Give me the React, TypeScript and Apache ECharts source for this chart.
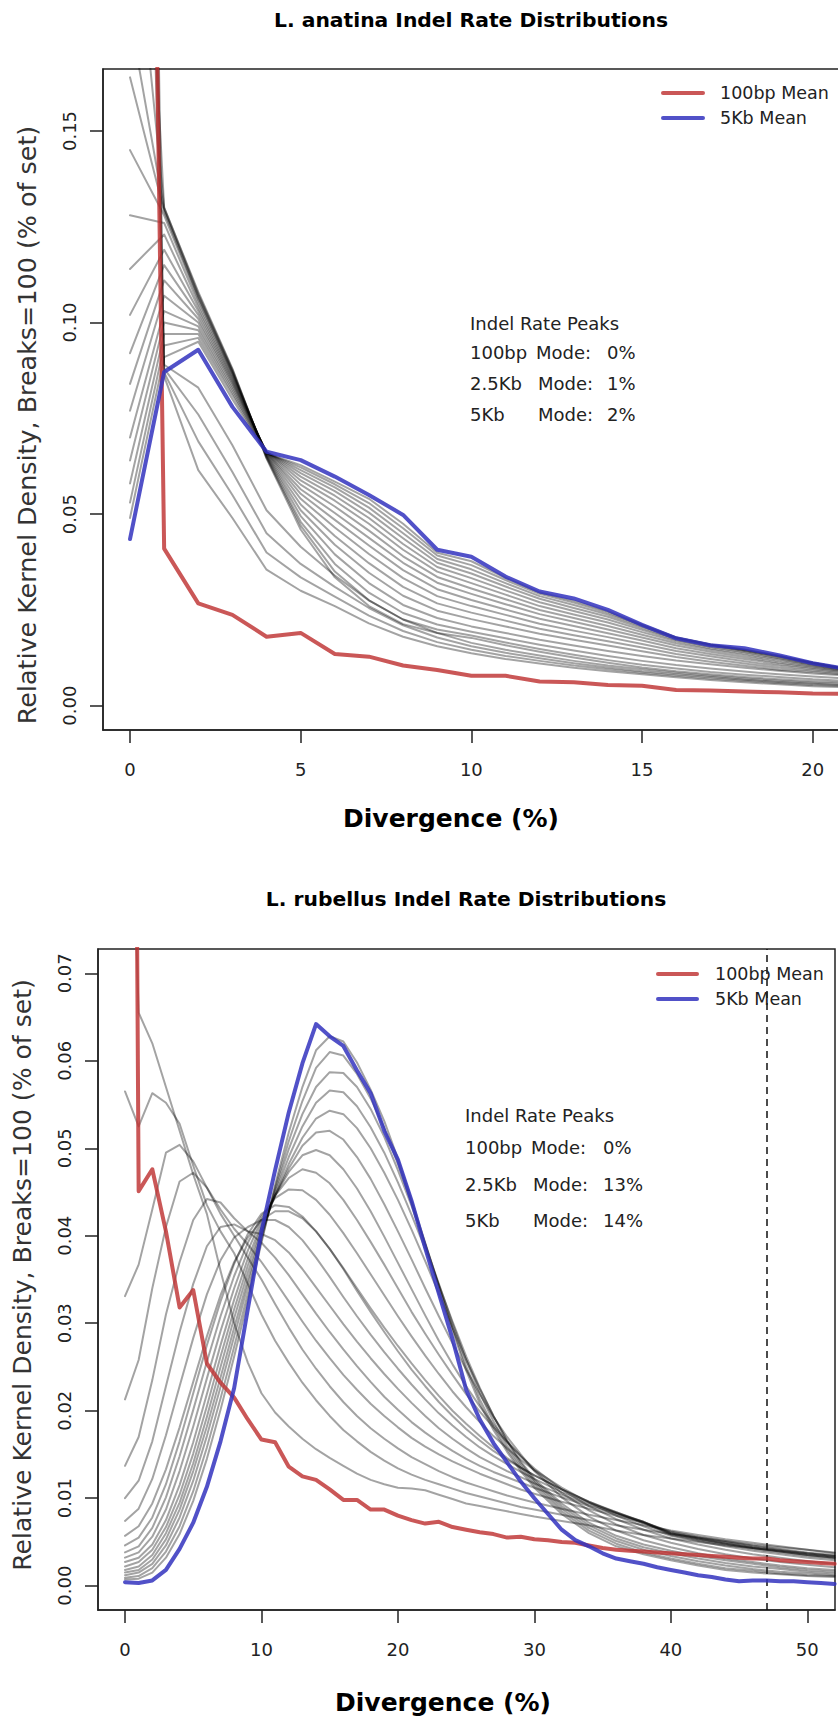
import React, { useEffect, useRef } from "react";
import * as echarts from "echarts";

// ---------------- L. anatina (top) ----------------
const anatinaX = [0, 1, 2, 3, 4, 5, 6, 7, 8, 9, 10, 11, 12, 13, 14, 15, 16, 17, 18, 19, 20, 21];
const anatina100bp = [0.67, 0.041, 0.0267, 0.0237, 0.018, 0.019, 0.0135, 0.0128, 0.0105, 0.0093, 0.0078, 0.0078, 0.0063, 0.0061, 0.0054, 0.0052, 0.0041, 0.004, 0.0037, 0.0035, 0.0032, 0.0031];
const anatina5kb = [0.0435, 0.0871, 0.0929, 0.078, 0.0663, 0.0641, 0.0598, 0.055, 0.0498, 0.0407, 0.0389, 0.0337, 0.0298, 0.028, 0.025, 0.0211, 0.0176, 0.0158, 0.015, 0.0132, 0.0111, 0.0096];
const anatinaGray = [
  [0.62, 0.086, 0.0615, 0.049, 0.0355, 0.030, 0.026, 0.0215, 0.018, 0.0155, 0.0137, 0.0122, 0.011, 0.0099, 0.009, 0.0082, 0.0074, 0.0067, 0.0061, 0.0056, 0.0051, 0.0048],
  [0.54, 0.087, 0.069, 0.055, 0.04, 0.0335, 0.0285, 0.0235, 0.0195, 0.0166, 0.0146, 0.013, 0.0117, 0.0105, 0.0095, 0.0086, 0.0078, 0.0071, 0.0065, 0.0059, 0.0054, 0.0051],
  [0.47, 0.088, 0.076, 0.061, 0.045, 0.037, 0.031, 0.0255, 0.021, 0.0178, 0.0155, 0.0138, 0.0124, 0.0111, 0.01, 0.009, 0.0082, 0.0075, 0.0068, 0.0062, 0.0057, 0.0053],
  [0.40, 0.089, 0.083, 0.068, 0.051, 0.0415, 0.034, 0.0275, 0.0225, 0.019, 0.0164, 0.0146, 0.0131, 0.0117, 0.0105, 0.0095, 0.0086, 0.0078, 0.0071, 0.0065, 0.006, 0.0056],
  [0.30, 0.130, 0.108, 0.088, 0.0645, 0.046, 0.0335, 0.026, 0.0213, 0.019, 0.0177, 0.0158, 0.0141, 0.0126, 0.0112, 0.0100, 0.0090, 0.0082, 0.0075, 0.0069, 0.0064, 0.0060],
  [0.22, 0.130, 0.1075, 0.0877, 0.0647, 0.047, 0.035, 0.0275, 0.0225, 0.0199, 0.0183, 0.0165, 0.0148, 0.0133, 0.0119, 0.0107, 0.0097, 0.0088, 0.0081, 0.0075, 0.0069, 0.0065],
  [0.18, 0.1295, 0.107, 0.0874, 0.0649, 0.048, 0.037, 0.0295, 0.0242, 0.0212, 0.0193, 0.0176, 0.0159, 0.0144, 0.013, 0.0117, 0.0106, 0.0097, 0.0089, 0.0082, 0.0076, 0.0071],
  [0.164, 0.129, 0.1065, 0.0871, 0.0651, 0.0495, 0.0395, 0.032, 0.0263, 0.0229, 0.0207, 0.019, 0.0172, 0.0157, 0.0143, 0.013, 0.0118, 0.0108, 0.0099, 0.0091, 0.0084, 0.0079],
  [0.145, 0.128, 0.106, 0.0868, 0.0653, 0.051, 0.042, 0.0347, 0.0287, 0.0248, 0.0226, 0.0207, 0.0188, 0.0172, 0.0157, 0.0142, 0.0127, 0.0115, 0.0104, 0.0094, 0.0088, 0.0081],
  [0.128, 0.126, 0.105, 0.0865, 0.0655, 0.0525, 0.0443, 0.0372, 0.031, 0.0267, 0.0243, 0.0222, 0.0201, 0.0184, 0.0168, 0.0152, 0.0135, 0.0122, 0.011, 0.0099, 0.0092, 0.0084],
  [0.114, 0.123, 0.104, 0.086, 0.0657, 0.054, 0.0465, 0.0396, 0.0333, 0.0286, 0.026, 0.0237, 0.0214, 0.0196, 0.0179, 0.0161, 0.0143, 0.0129, 0.0116, 0.0104, 0.0096, 0.0087],
  [0.102, 0.119, 0.103, 0.0855, 0.0659, 0.0553, 0.0485, 0.0418, 0.0354, 0.0304, 0.0276, 0.0251, 0.0227, 0.0208, 0.0189, 0.017, 0.015, 0.0135, 0.0122, 0.0109, 0.0099, 0.0089],
  [0.092, 0.115, 0.102, 0.085, 0.066, 0.0565, 0.0503, 0.0438, 0.0373, 0.0321, 0.0292, 0.0265, 0.0239, 0.0219, 0.0199, 0.0178, 0.0157, 0.0141, 0.0127, 0.0113, 0.0102, 0.0091],
  [0.084, 0.111, 0.101, 0.0845, 0.0661, 0.0577, 0.052, 0.0457, 0.039, 0.0336, 0.0306, 0.0278, 0.025, 0.0229, 0.0208, 0.0185, 0.0163, 0.0146, 0.0132, 0.0117, 0.0105, 0.0093],
  [0.077, 0.107, 0.1, 0.084, 0.0662, 0.0588, 0.0535, 0.0475, 0.0407, 0.035, 0.032, 0.029, 0.026, 0.0238, 0.0217, 0.0192, 0.0168, 0.015, 0.0136, 0.0121, 0.0107, 0.0094],
  [0.07, 0.103, 0.099, 0.0833, 0.0662, 0.0598, 0.0548, 0.049, 0.0422, 0.0362, 0.0333, 0.0301, 0.027, 0.0247, 0.0225, 0.0198, 0.0172, 0.0154, 0.014, 0.0124, 0.0109, 0.0095],
  [0.064, 0.1, 0.098, 0.0826, 0.0662, 0.0607, 0.056, 0.0504, 0.0437, 0.0373, 0.0345, 0.0311, 0.0279, 0.0255, 0.0232, 0.0203, 0.0175, 0.0157, 0.0143, 0.0127, 0.0111, 0.0096],
  [0.058, 0.097, 0.097, 0.0818, 0.0661, 0.0615, 0.057, 0.0517, 0.045, 0.0383, 0.0356, 0.032, 0.0286, 0.0263, 0.0238, 0.0207, 0.0177, 0.0159, 0.0145, 0.0129, 0.0112, 0.0096],
  [0.053, 0.094, 0.096, 0.081, 0.066, 0.0622, 0.0578, 0.0529, 0.0463, 0.0392, 0.0367, 0.0328, 0.0292, 0.0269, 0.0243, 0.021, 0.0178, 0.016, 0.0146, 0.013, 0.0112, 0.0096],
  [0.049, 0.091, 0.095, 0.080, 0.0659, 0.0628, 0.0585, 0.054, 0.0475, 0.0399, 0.0377, 0.0334, 0.0296, 0.0274, 0.0247, 0.0212, 0.0178, 0.016, 0.0147, 0.0131, 0.0112, 0.0096],
];
const anatinaXTicks = [0, 5, 10, 15, 20];
const anatinaYTicks = [0, 0.05, 0.1, 0.15];
const anatinaPeaks = [
  ["100bp", "Mode:", "0%"],
  ["2.5Kb", "Mode:", "1%"],
  ["5Kb", "Mode:", "2%"],
];

// ---------------- L. rubellus (bottom) ----------------
const rubellusX = [0, 1, 2, 3, 4, 5, 6, 7, 8, 9, 10, 11, 12, 13, 14, 15, 16, 17, 18, 19, 20, 21, 22, 23, 24, 25, 26, 27, 28, 29, 30, 31, 32, 33, 34, 35, 36, 37, 38, 39, 40, 41, 42, 43, 44, 45, 46, 47, 48, 49, 50, 51, 52];
const rubellus100bp = [0.30, 0.0451, 0.0476, 0.0405, 0.0318, 0.0338, 0.0254, 0.0232, 0.0215, 0.019, 0.0167, 0.0164, 0.0136, 0.0125, 0.0121, 0.011, 0.0098, 0.0098, 0.0087, 0.0087, 0.008, 0.0075, 0.0071, 0.0073, 0.0067, 0.0064, 0.0061, 0.0059, 0.0055, 0.0056, 0.0053, 0.0052, 0.005, 0.0049, 0.0046, 0.0043, 0.0041, 0.004, 0.0039, 0.0038, 0.0037, 0.0036, 0.0035, 0.0034, 0.0033, 0.0032, 0.0031, 0.0031, 0.0029, 0.0028, 0.0027, 0.0026, 0.0025];
const rubellus5kb = [0.0004, 0.0003, 0.0006, 0.0018, 0.0042, 0.0072, 0.0113, 0.0165, 0.0226, 0.0316, 0.0405, 0.0475, 0.0541, 0.0597, 0.0642, 0.0628, 0.0617, 0.0589, 0.0563, 0.052, 0.0487, 0.044, 0.0386, 0.0334, 0.0282, 0.0224, 0.019, 0.0163, 0.0141, 0.0119, 0.01, 0.0082, 0.0064, 0.0052, 0.0045, 0.0037, 0.0031, 0.0028, 0.0025, 0.0021, 0.0018, 0.0015, 0.0012, 0.001, 0.0007, 0.0005, 0.0006, 0.0006, 0.0005, 0.0005, 0.0004, 0.0003, 0.0002];
const rubellusGrayX = [0, 1, 2, 3, 4, 5, 6, 7, 8, 9, 10, 11, 12, 13, 14, 15, 16, 17, 18, 19, 20, 21, 22, 23, 24, 25, 26, 27, 28, 29, 30, 32, 34, 36, 38, 40, 42, 44, 46, 48, 50, 52];
const rubellusGray = [
  [0.115, 0.0655, 0.062, 0.057, 0.052, 0.047, 0.0425, 0.036, 0.030, 0.0255, 0.022, 0.0198, 0.0182, 0.0168, 0.0156, 0.0146, 0.0137, 0.0128, 0.0121, 0.0116, 0.0112, 0.0111, 0.0109, 0.0104, 0.0099, 0.0094, 0.0091, 0.0088, 0.0085, 0.0082, 0.0079, 0.0074, 0.0069, 0.0063, 0.0058, 0.0054, 0.005, 0.0046, 0.0043, 0.004, 0.0037, 0.0034],
  [0.0565, 0.0525, 0.0563, 0.0552, 0.0528, 0.048, 0.0435, 0.0405, 0.038, 0.0345, 0.031, 0.028, 0.0255, 0.0232, 0.0212, 0.0194, 0.0178, 0.0165, 0.0153, 0.0143, 0.0134, 0.0127, 0.0121, 0.0116, 0.0111, 0.0106, 0.0102, 0.0098, 0.0094, 0.009, 0.0087, 0.0081, 0.0075, 0.0069, 0.0064, 0.0059, 0.0055, 0.0051, 0.0047, 0.0044, 0.0041, 0.0038],
  [0.0331, 0.0367, 0.043, 0.0495, 0.0504, 0.0485, 0.0455, 0.0425, 0.040, 0.0375, 0.035, 0.0322, 0.0295, 0.027, 0.0248, 0.0228, 0.021, 0.0194, 0.018, 0.0168, 0.0157, 0.0147, 0.0139, 0.0131, 0.0124, 0.0118, 0.0113, 0.0108, 0.0103, 0.0099, 0.0095, 0.0088, 0.0081, 0.0075, 0.0069, 0.0063, 0.0058, 0.0053, 0.0049, 0.0045, 0.0041, 0.0037],
  [0.0213, 0.0258, 0.034, 0.041, 0.0462, 0.0472, 0.0455, 0.043, 0.0408, 0.039, 0.037, 0.0348, 0.0325, 0.0302, 0.028, 0.026, 0.0241, 0.0224, 0.0208, 0.0194, 0.0181, 0.0169, 0.0159, 0.015, 0.0142, 0.0135, 0.0128, 0.0122, 0.0116, 0.011, 0.0105, 0.0096, 0.0088, 0.008, 0.0072, 0.0062, 0.0056, 0.0051, 0.0046, 0.0042, 0.0038, 0.0035],
  [0.0137, 0.017, 0.0235, 0.031, 0.037, 0.0418, 0.0442, 0.0438, 0.042, 0.0405, 0.0392, 0.0375, 0.0355, 0.0333, 0.0311, 0.029, 0.027, 0.0251, 0.0233, 0.0216, 0.0201, 0.0187, 0.0175, 0.0164, 0.0154, 0.0145, 0.0137, 0.013, 0.0124, 0.0118, 0.0112, 0.0101, 0.0091, 0.0082, 0.0073, 0.0061, 0.0055, 0.005, 0.0045, 0.0041, 0.0037, 0.0034],
  [0.01, 0.012, 0.0165, 0.0228, 0.029, 0.0345, 0.0388, 0.041, 0.0413, 0.0405, 0.0402, 0.0395, 0.0381, 0.0362, 0.0341, 0.032, 0.0299, 0.0279, 0.026, 0.0242, 0.0225, 0.0209, 0.0194, 0.018, 0.0168, 0.0157, 0.0147, 0.0139, 0.0131, 0.0124, 0.0117, 0.0104, 0.0093, 0.0083, 0.0073, 0.006, 0.0054, 0.0049, 0.0044, 0.004, 0.0036, 0.0033],
  [0.0074, 0.0088, 0.0122, 0.0172, 0.0228, 0.0283, 0.0333, 0.0372, 0.0398, 0.041, 0.0418, 0.0418, 0.041, 0.0395, 0.0375, 0.0353, 0.033, 0.0308, 0.0287, 0.0267, 0.0248, 0.023, 0.0213, 0.0197, 0.0183, 0.017, 0.0158, 0.0148, 0.0139, 0.013, 0.0122, 0.0107, 0.0095, 0.0084, 0.0073, 0.0059, 0.0053, 0.0048, 0.0043, 0.0039, 0.0035, 0.0032],
  [0.0057, 0.0068, 0.0094, 0.0133, 0.0181, 0.0233, 0.0285, 0.0332, 0.037, 0.0398, 0.0418, 0.0428, 0.0428, 0.042, 0.0405, 0.0385, 0.0362, 0.0337, 0.0313, 0.029, 0.0268, 0.0247, 0.0228, 0.021, 0.0194, 0.0179, 0.0166, 0.0154, 0.0144, 0.0135, 0.0126, 0.011, 0.0096, 0.0084, 0.0072, 0.0058, 0.0052, 0.0047, 0.0042, 0.0038, 0.0034, 0.0031],
  [0.0046, 0.0055, 0.0078, 0.0116, 0.0165, 0.022, 0.0275, 0.0325, 0.0368, 0.0402, 0.0425, 0.0435, 0.0433, 0.0422, 0.0405, 0.0385, 0.0363, 0.034, 0.0317, 0.0295, 0.0274, 0.0254, 0.0235, 0.0217, 0.02, 0.0185, 0.0171, 0.0158, 0.0146, 0.0135, 0.0126, 0.011, 0.0096, 0.0083, 0.0071, 0.006, 0.0054, 0.0048, 0.0043, 0.0039, 0.0035, 0.0032],
  [0.0038, 0.0045, 0.0066, 0.0101, 0.0148, 0.0201, 0.0256, 0.0308, 0.0354, 0.0392, 0.0422, 0.0443, 0.0453, 0.0452, 0.0441, 0.0424, 0.0403, 0.038, 0.0356, 0.0332, 0.0308, 0.0285, 0.0263, 0.0242, 0.0222, 0.0204, 0.0187, 0.0171, 0.0157, 0.0144, 0.0132, 0.0112, 0.0095, 0.008, 0.0068, 0.0057, 0.0051, 0.0045, 0.004, 0.0036, 0.0032, 0.0029],
  [0.0032, 0.0038, 0.0056, 0.0087, 0.0131, 0.0182, 0.0237, 0.0291, 0.034, 0.0383, 0.0418, 0.0446, 0.0466, 0.0476, 0.0472, 0.046, 0.0441, 0.0418, 0.0393, 0.0367, 0.034, 0.0313, 0.0288, 0.0264, 0.0241, 0.0219, 0.0199, 0.0181, 0.0164, 0.0148, 0.0134, 0.011, 0.0091, 0.0076, 0.0064, 0.0054, 0.0047, 0.0041, 0.0036, 0.0032, 0.0028, 0.0025],
  [0.0027, 0.0032, 0.0047, 0.0075, 0.0115, 0.0164, 0.0219, 0.0275, 0.0327, 0.0374, 0.0413, 0.0446, 0.0473, 0.0492, 0.0498, 0.0492, 0.0476, 0.0454, 0.0428, 0.0399, 0.0369, 0.0339, 0.0309, 0.028, 0.0253, 0.0228, 0.0205, 0.0184, 0.0165, 0.0148, 0.0132, 0.0106, 0.0086, 0.007, 0.0058, 0.0049, 0.0042, 0.0036, 0.0031, 0.0027, 0.0024, 0.0021],
  [0.0022, 0.0027, 0.0041, 0.0067, 0.0104, 0.0151, 0.0205, 0.0262, 0.0316, 0.0366, 0.0409, 0.0446, 0.0477, 0.0503, 0.0518, 0.052, 0.051, 0.049, 0.0465, 0.0436, 0.0405, 0.0373, 0.034, 0.0308, 0.0277, 0.0247, 0.0219, 0.0193, 0.017, 0.015, 0.0131, 0.0101, 0.0079, 0.0063, 0.0052, 0.0044, 0.0037, 0.0031, 0.0027, 0.0023, 0.002, 0.0018],
  [0.0018, 0.0022, 0.0035, 0.006, 0.0095, 0.014, 0.0193, 0.025, 0.0306, 0.0358, 0.0405, 0.0446, 0.0482, 0.0512, 0.0534, 0.0543, 0.0539, 0.0523, 0.05, 0.0472, 0.0441, 0.0407, 0.0371, 0.0334, 0.0295, 0.0258, 0.0225, 0.0194, 0.0166, 0.0142, 0.0122, 0.0094, 0.0072, 0.0057, 0.0047, 0.004, 0.0034, 0.0029, 0.0025, 0.0021, 0.0018, 0.0016],
  [0.0015, 0.0018, 0.003, 0.0053, 0.0087, 0.0131, 0.0182, 0.0238, 0.0295, 0.035, 0.0402, 0.0449, 0.049, 0.0525, 0.0552, 0.0566, 0.0564, 0.0548, 0.0524, 0.0495, 0.0461, 0.0424, 0.0385, 0.0344, 0.0302, 0.0262, 0.0226, 0.0194, 0.0165, 0.014, 0.012, 0.0091, 0.0069, 0.0054, 0.0044, 0.0037, 0.0031, 0.0026, 0.0022, 0.0019, 0.0016, 0.0014],
  [0.0012, 0.0015, 0.0025, 0.0046, 0.0078, 0.012, 0.0171, 0.0227, 0.0285, 0.0343, 0.0399, 0.0452, 0.0499, 0.0539, 0.057, 0.0587, 0.0586, 0.057, 0.0545, 0.0513, 0.0475, 0.0434, 0.039, 0.0345, 0.03, 0.0258, 0.022, 0.0188, 0.016, 0.0137, 0.0118, 0.0088, 0.0066, 0.0051, 0.0041, 0.0034, 0.0028, 0.0023, 0.0019, 0.0016, 0.0014, 0.0012],
  [0.0009, 0.0011, 0.002, 0.0039, 0.0068, 0.0108, 0.0158, 0.0214, 0.0273, 0.0334, 0.0395, 0.0455, 0.0508, 0.0554, 0.0592, 0.061, 0.0606, 0.0585, 0.0557, 0.0523, 0.0482, 0.0438, 0.0391, 0.0343, 0.0295, 0.0251, 0.0213, 0.0182, 0.0156, 0.0134, 0.0115, 0.0085, 0.0063, 0.0048, 0.0038, 0.0031, 0.0025, 0.002, 0.0017, 0.0014, 0.0012, 0.0011],
  [0.0007, 0.0008, 0.0015, 0.0032, 0.0059, 0.0097, 0.0145, 0.0201, 0.0262, 0.0326, 0.0392, 0.0458, 0.0518, 0.057, 0.0612, 0.0628, 0.0622, 0.0598, 0.0567, 0.0531, 0.0488, 0.0441, 0.0392, 0.0342, 0.0292, 0.0246, 0.0208, 0.0178, 0.0153, 0.0131, 0.0112, 0.0082, 0.006, 0.0045, 0.0036, 0.0029, 0.0023, 0.0018, 0.0015, 0.0013, 0.0011, 0.001],
];
const rubellusXTicks = [0, 10, 20, 30, 40, 50];
const rubellusYTicks = [0, 0.01, 0.02, 0.03, 0.04, 0.05, 0.06, 0.07];
const rubellusCutoff = 47;
const rubellusPeaks = [
  ["100bp", "Mode:", "0%"],
  ["2.5Kb", "Mode:", "13%"],
  ["5Kb", "Mode:", "14%"],
];

const legendNames = ["100bp Mean", "5Kb Mean"];
const yTitle = "Relative Kernel Density, Breaks=100 (% of set)";
const xTitle = "Divergence (%)";

// ---------------- styling ----------------
const FONT = '"DejaVu Sans", Verdana, sans-serif';
const RED = "rgba(190,50,50,0.82)";
const BLUE = "rgba(50,50,190,0.85)";
const GRAY = "rgba(0,0,0,0.36)";
const AXIS = "#222";

function xAxisCfg(gridIndex: number, min: number, max: number, ticks: number[]) {
  return {
    type: "value",
    gridIndex,
    min,
    max,
    axisLine: { show: true, onZero: false, lineStyle: { color: AXIS, width: 1.5 } },
    axisTick: { show: true, inside: false, length: 13, customValues: ticks, lineStyle: { color: AXIS, width: 1.5 } },
    axisLabel: {
      show: true,
      customValues: ticks,
      margin: 30,
      fontSize: 18,
      fontFamily: FONT,
      color: "#222",
      formatter: (v: number) => String(Math.round(v)),
    },
    splitLine: { show: false },
  };
}

function yAxisCfg(gridIndex: number, min: number, max: number, ticks: number[]) {
  return {
    type: "value",
    gridIndex,
    min,
    max,
    axisLine: { show: true, onZero: false, lineStyle: { color: AXIS, width: 1.5 } },
    axisTick: { show: true, inside: false, length: 13, customValues: ticks, lineStyle: { color: AXIS, width: 1.5 } },
    axisLabel: {
      show: true,
      customValues: ticks,
      rotate: 90,
      margin: 25,
      fontSize: 18,
      fontFamily: FONT,
      color: "#222",
      formatter: (v: number) => v.toFixed(2),
    },
    splitLine: { show: false },
  };
}

function lineSeries(xs: number[], ys: number[], axis: number, color: string, width: number, z: number) {
  const n = Math.min(xs.length, ys.length);
  const data: number[][] = [];
  for (let i = 0; i < n; i++) data.push([xs[i], ys[i]]);
  return {
    type: "line",
    xAxisIndex: axis,
    yAxisIndex: axis,
    data,
    showSymbol: false,
    symbol: "none",
    silent: true,
    clip: true,
    z,
    lineStyle: { color, width, join: "round", cap: "round" },
  };
}

function txt(text: string, x: number, y: number, extra: any = {}, rotation = 0) {
  return {
    type: "text",
    x,
    y,
    rotation,
    silent: true,
    z: 100,
    style: {
      text,
      fontFamily: FONT,
      fontSize: 18,
      fill: "#222",
      align: "left",
      verticalAlign: "middle",
      ...extra,
    },
  };
}

function legendLine(x1: number, x2: number, y: number, color: string) {
  return {
    type: "line",
    silent: true,
    z: 100,
    shape: { x1, y1: y, x2, y2: y },
    style: { stroke: color, lineWidth: 4, lineCap: "round" },
  };
}

function buildOption() {
  const series: any[] = [];
  anatinaGray.forEach((row) => series.push(lineSeries(anatinaX, row, 0, GRAY, 2, 2)));
  series.push(lineSeries(anatinaX, anatina100bp, 0, RED, 4, 5));
  series.push(lineSeries(anatinaX, anatina5kb, 0, BLUE, 4, 6));

  rubellusGray.forEach((row) => series.push(lineSeries(rubellusGrayX, row, 1, GRAY, 2, 2)));
  const red2: any = lineSeries(rubellusX, rubellus100bp, 1, RED, 4, 5);
  red2.markLine = {
    silent: true,
    symbol: ["none", "none"],
    label: { show: false },
    lineStyle: { color: "#111", width: 1.5, type: [7, 5] },
    data: [{ xAxis: rubellusCutoff }],
  };
  series.push(red2);
  series.push(lineSeries(rubellusX, rubellus5kb, 1, BLUE, 4, 6));

  const graphics: any[] = [
    // titles
    txt("L. anatina Indel Rate Distributions", 471, 20, { fontSize: 20.3, fontWeight: "bold", align: "center", fill: "#000" }),
    txt("L. rubellus Indel Rate Distributions", 466, 899, { fontSize: 20.3, fontWeight: "bold", align: "center", fill: "#000" }),
    // x titles
    txt(xTitle, 451, 818, { fontSize: 25, fontWeight: "bold", align: "center", fill: "#000" }),
    txt(xTitle, 443, 1702, { fontSize: 25, fontWeight: "bold", align: "center", fill: "#000" }),
    // y titles
    txt(yTitle, 27, 425, { fontSize: 25.4, align: "center", fill: "#333" }, Math.PI / 2),
    txt(yTitle, 22, 1275, { fontSize: 25.1, align: "center", fill: "#333" }, Math.PI / 2),
    // legends top
    legendLine(663, 703, 93, RED),
    legendLine(663, 703, 118, BLUE),
    txt(legendNames[0], 720, 93, { fontSize: 17.5 }),
    txt(legendNames[1], 720, 118, { fontSize: 17.5 }),
    // legends bottom
    legendLine(658, 697, 974, RED),
    legendLine(658, 697, 999, BLUE),
    txt(legendNames[0], 715, 974, { fontSize: 17.5 }),
    txt(legendNames[1], 715, 999, { fontSize: 17.5 }),
    // peaks headings
    txt("Indel Rate Peaks", 470, 323),
    txt("Indel Rate Peaks", 465, 1115),
  ];
  const topRows = [352, 383, 414];
  const topModeX = [536, 538, 538];
  anatinaPeaks.forEach((r, i) => {
    graphics.push(txt(r[0], 470, topRows[i]));
    graphics.push(txt(r[1], topModeX[i], topRows[i]));
    graphics.push(txt(r[2], 607, topRows[i]));
  });
  const botRows = [1147, 1184, 1220];
  const botModeX = [531, 533, 533];
  rubellusPeaks.forEach((r, i) => {
    graphics.push(txt(r[0], 465, botRows[i]));
    graphics.push(txt(r[1], botModeX[i], botRows[i]));
    graphics.push(txt(r[2], 603, botRows[i]));
  });

  return {
    animation: false,
    backgroundColor: "#ffffff",
    grid: [
      { left: 103, top: 69, width: 736, height: 661, show: true, borderColor: AXIS, borderWidth: 1.5, backgroundColor: "transparent", containLabel: false, outerBoundsMode: "none" },
      { left: 98, top: 949, width: 737, height: 661, show: true, borderColor: AXIS, borderWidth: 1.5, backgroundColor: "transparent", containLabel: false, outerBoundsMode: "none" },
    ],
    xAxis: [xAxisCfg(0, -0.791, 20.77, anatinaXTicks), xAxisCfg(1, -1.979, 52.03, rubellusXTicks)],
    yAxis: [yAxisCfg(0, -0.00634, 0.16618, anatinaYTicks), yAxisCfg(1, -0.00278, 0.07278, rubellusYTicks)],
    series,
    graphic: graphics,
  };
}

export default function App() {
  const ref = useRef<HTMLDivElement>(null);
  useEffect(() => {
    if (!ref.current) return;
    const chart = echarts.init(ref.current, undefined, { renderer: "svg", width: 838, height: 1719 });
    chart.setOption(buildOption() as any);
    return () => chart.dispose();
  }, []);
  return (
    <div
      ref={ref}
      style={{ position: "absolute", left: 0, top: 0, width: 838, height: 1719, background: "#fff" }}
    />
  );
}
